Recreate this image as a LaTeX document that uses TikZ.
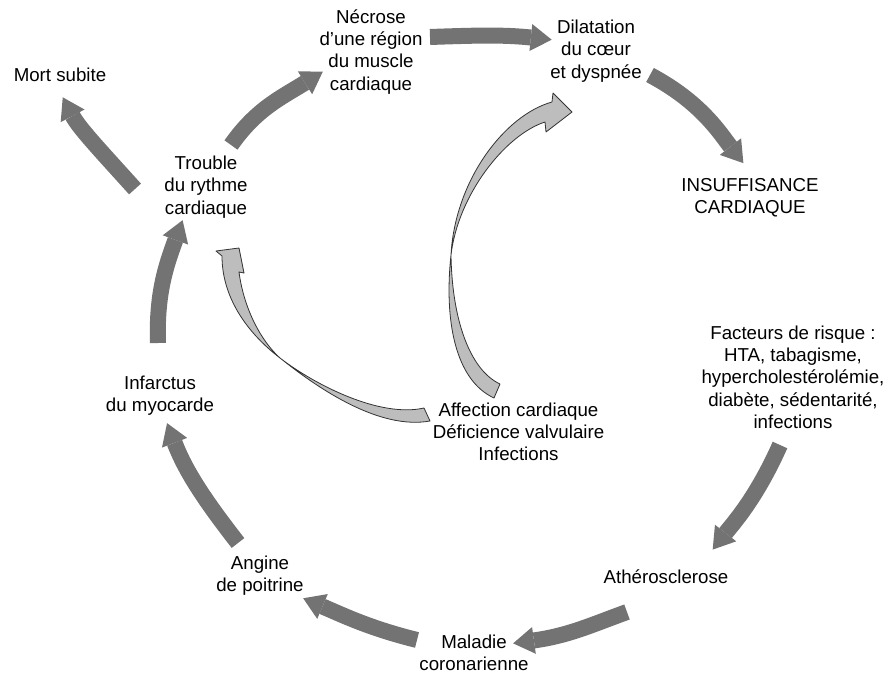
\documentclass[tikz,border=0pt]{standalone}
\usepackage{fontspec}
\setmainfont{Liberation Sans}
\usetikzlibrary{arrows.meta}
\definecolor{cycgray}{HTML}{737373}
\definecolor{hollowgray}{HTML}{BDBDBD}
\tikzset{lbl/.style = {align=center, inner sep=0pt, font=\fontsize{18.7}{22.3}\selectfont}}
\tikzset{cyc/.style = {draw=cycgray, line width=16pt,
                       -{Triangle[length=21pt, width=27pt, line width=0pt]}}}
\tikzset{hollow/.style = {fill=hollowgray, draw=black!80, line width=0.8pt, line join=round}}

\begin{document}
\begin{tikzpicture}[x=1pt, y=1pt]
      \useasboundingbox (0,0) rectangle (887,-674);
      \node [lbl] (mort) at (60,-74.7) {Mort subite};
      \node [lbl] (necrose) at (371,-51.9) {Nécrose\\d’une région\\du muscle\\cardiaque};
      \node [lbl] (dilat) at (596,-51) {Dilatation\\du cœur\\et dyspnée};
      \node [lbl] (insuff) at (750,-198) {INSUFFISANCE\\CARDIAQUE};
      \node [lbl] (trouble) at (206,-187) {Trouble\\du rythme\\cardiaque};
      \node [lbl] (facteurs) at (793,-377.3) {Facteurs de risque :\\HTA, tabagisme,\\hypercholestérolémie,\\diabète, sédentarité,\\infections};
      \node [lbl] (infarctus) at (160,-395.8) {Infarctus\\du myocarde};
      \node [lbl] (affection) at (518.5,-432) {Affection cardiaque\\Déficience valvulaire\\Infections};
      \node [lbl] (athero) at (666,-576.7) {Athérosclerose};
      \node [lbl] (angine) at (260,-575.9) {Angine\\de poitrine};
      \node [lbl] (maladie) at (474,-652.8) {Maladie\\coronarienne};
      \draw [cyc, shorten >=-4.1pt] (trouble) ++(25,42) to [out=55, in=212] (necrose.203);
      \draw [cyc, shorten >=-1.7pt] (necrose) ++(59,14.9) to [out=2, in=174] (dilat.166);
      \draw [cyc, shorten >=19.3pt] (dilat) ++(54,-24) to [out=-28, in=128] (insuff.75);
      \draw [cyc, shorten >=17.6pt] (trouble) ++(-71,-2) to [out=132, in=298] (mort.232);
      \draw [cyc, shorten >=2.1pt] (infarctus) ++(-2,52.8) to [out=92, in=250] (trouble.234);
      \draw [cyc, shorten >=7.8pt] (angine) ++(-22,32.9) to [out=128, in=291] (infarctus.-78);
      \draw [cyc, shorten >=5.9pt] (maladie) ++(-57,12.8) to [out=166, in=337] (angine.-28);
      \draw [cyc, shorten >=-15.8pt] (athero) ++(-39,-35.3) to [out=200, in=8] (maladie.12);
      \draw [cyc, shorten >=25.3pt] (facteurs) ++(-13,-67.7) to [out=246, in=52] (athero.13);
      \draw [hollow] (500,-384) .. controls (470,-370) and (452,-320) .. (451,-255)
            .. controls (458,-195) and (505,-135) .. (545,-122) -- (546,-132) -- (572,-112)
            -- (553,-93) -- (552,-102) .. controls (505,-115) and (455,-180) .. (451,-255)
            .. controls (444,-320) and (455,-380) .. (494,-398) -- cycle;
      \draw [hollow] (424,-408) .. controls (380,-418) and (315,-385) .. (280,-358)
            .. controls (262,-342) and (244,-310) .. (239,-272) -- (244,-273) -- (239,-248)
            -- (216,-251) -- (222,-256) .. controls (222,-300) and (250,-335) .. (280,-358)
            .. controls (320,-390) and (380,-430) .. (430,-421) -- cycle;
    \end{tikzpicture}
\end{document}
